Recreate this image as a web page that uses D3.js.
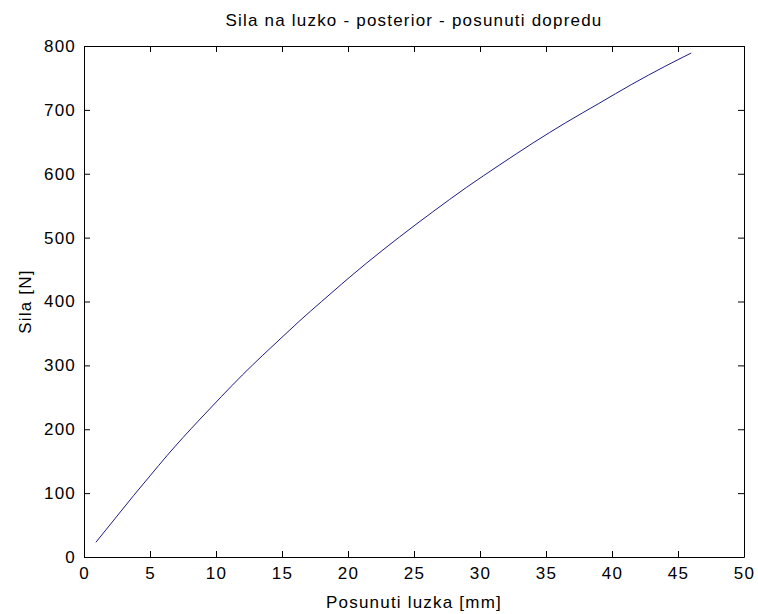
<!DOCTYPE html>
<html>
<head>
<meta charset="utf-8">
<script src="https://cdn.jsdelivr.net/npm/d3@7"></script>
<style>
  body { margin: 0; background: #fff; }
  text { font-family: "Liberation Sans", Arial, sans-serif; font-size: 17px; letter-spacing: 1.2px; fill: #000; }
  .axis text { font-size: 17px; }
  .axis line, .axis path { stroke: #000; }
</style>
</head>
<body>
<div id="chart"></div>
<script>
// displacement [mm] and force [N]
const posunuti = [0.9, 2.5, 3.75, 5, 6.3, 7.5, 8.8, 10.4, 12, 13.5, 15, 16.3, 18, 19.5, 21.4,
    23.9, 26.4, 29, 31.5, 34, 36.5, 39, 41.5, 44, 46];
const sila = [23, 64, 96, 127, 159, 187, 216, 251, 285, 315, 344, 369, 400, 427, 460,
    501, 540, 579, 614, 648, 680, 710, 740, 768, 789];
const xTicks = [0, 5, 10, 15, 20, 25, 30, 35, 40, 45, 50];
const yTicks = [0, 100, 200, 300, 400, 500, 600, 700, 800];

const data = posunuti.map((d, i) => ({ x: d, y: sila[i] }));

const svg = d3.select('#chart')
    .append('svg')
    .attr('width', 758)
    .attr('height', 614);

const margin = { top: 46, right: 14, bottom: 57, left: 84 };
const width = +svg.attr('width') - margin.left - margin.right;
const height = +svg.attr('height') - margin.top - margin.bottom;

const g = svg.append('g')
    .attr('transform', 'translate(' + margin.left + ',' + margin.top + ')');

const x = d3.scaleLinear().domain([0, 50]).range([0, width]);
const y = d3.scaleLinear().domain([0, 800]).range([height, 0]);

// bottom + left axes with labels, ticks pointing inside
g.append('g')
    .attr('class', 'axis')
    .attr('transform', 'translate(0,' + height + ')')
    .call(d3.axisBottom(x).tickValues(xTicks).tickSizeInner(-6).tickSizeOuter(0).tickPadding(10));

g.append('g')
    .attr('class', 'axis')
    .call(d3.axisLeft(y).tickValues(yTicks).tickSizeInner(-6).tickSizeOuter(0).tickPadding(8));

// mirrored ticks on top and right
g.append('g')
    .attr('class', 'axis')
    .call(d3.axisTop(x).tickValues(xTicks).tickSizeInner(-6).tickSizeOuter(0).tickFormat(''));

g.append('g')
    .attr('class', 'axis')
    .attr('transform', 'translate(' + width + ',0)')
    .call(d3.axisRight(y).tickValues(yTicks).tickSizeInner(-6).tickSizeOuter(0).tickFormat(''));

const line = d3.line()
    .curve(d3.curveMonotoneX)
    .x(d => x(d.x))
    .y(d => y(d.y));

g.append('path')
    .datum(data)
    .attr('fill', 'none')
    .attr('stroke', '#1c1c84')
    .attr('stroke-width', 1)
    .attr('d', line);

// titles
g.append('text')
    .attr('x', width / 2)
    .attr('y', -20)
    .attr('text-anchor', 'middle')
    .text('Sila na luzko - posterior - posunuti dopredu');

g.append('text')
    .attr('x', width / 2)
    .attr('y', height + 51)
    .attr('text-anchor', 'middle')
    .text('Posunuti luzka [mm]');

g.append('text')
    .attr('transform', 'translate(' + (-53) + ',' + (height / 2) + ') rotate(-90)')
    .attr('text-anchor', 'middle')
    .text('Sila [N]');
</script>
</body>
</html>
